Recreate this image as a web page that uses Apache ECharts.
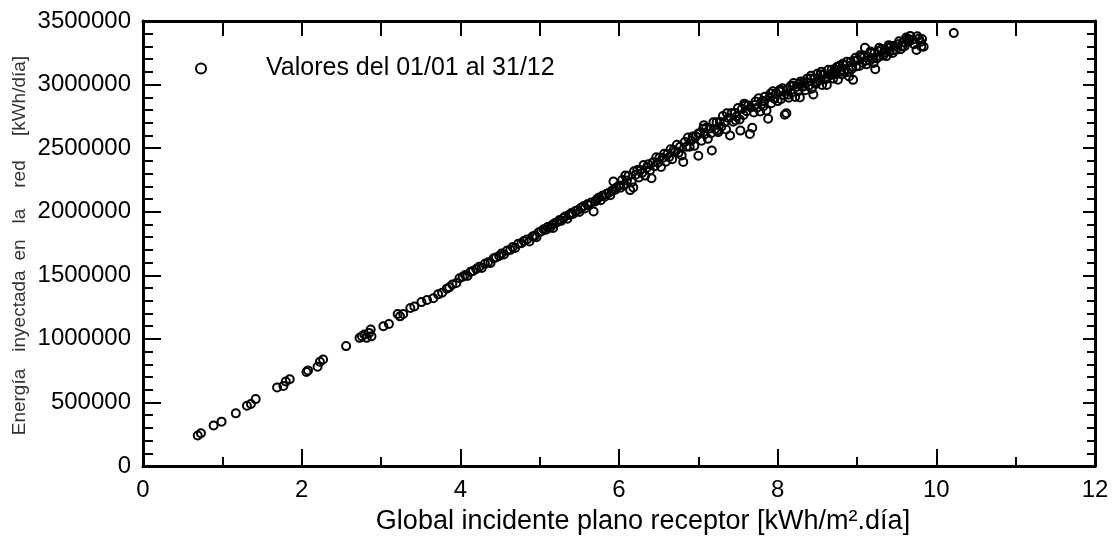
<!DOCTYPE html>
<html>
<head>
<meta charset="utf-8">
<script src="https://cdn.jsdelivr.net/npm/echarts@6/dist/echarts.min.js"></script>
<style>html,body{margin:0;padding:0;background:#fff}#c{width:1112px;height:540px}</style>
</head>
<body>
<div id="c"></div>
<script>
// Global irradiance on receptor plane [kWh/m2.day] and grid-injected energy [kWh/day]
const irradiance = [
0.69,0.73,0.89,0.99,1.17,1.31,1.36,1.42,1.69,1.77,1.80,1.85,2.06,2.08,2.20,2.23,2.27,2.56,2.73,2.76,
2.79,2.82,2.85,2.87,2.88,3.03,3.10,3.21,3.24,3.28,3.37,3.42,3.51,3.58,3.66,3.72,3.77,3.83,
3.86,3.90,3.95,3.99,4.03,4.06,4.09,4.13,4.16,4.20,4.24,4.27,4.31,4.35,4.38,4.42,4.45,4.49,4.52,4.55,
4.59,4.63,4.66,4.69,4.73,4.77,4.80,4.84,4.87,4.91,4.94,4.96,4.99,5.02,
5.05,5.08,5.10,5.13,5.16,5.17,5.19,5.22,5.25,5.27,5.30,5.32,5.35,5.37,5.40,5.42,5.45,5.48,5.50,5.52,
5.55,5.57,5.60,5.62,5.65,5.68,5.70,5.72,5.74,5.77,5.79,5.82,5.84,5.87,5.89,5.91,5.93,5.95,5.97,6.00,6.02,
6.04,6.06,6.08,6.10,6.12,6.14,6.16,6.18,6.19,6.21,6.23,6.25,6.27,6.29,6.31,6.33,6.35,6.37,6.39,6.41,
6.43,6.45,6.47,6.49,6.51,6.53,6.55,6.57,6.59,6.61,6.63,6.65,6.67,6.69,6.71,6.73,6.75,6.77,6.79,6.81,
6.83,6.85,6.87,6.89,6.91,6.93,6.95,6.97,7.00,7.00,
7.02,7.04,7.06,7.08,7.10,7.12,7.14,7.16,7.17,7.19,7.21,7.23,7.25,7.27,7.29,7.31,7.33,7.35,7.36,7.38,
7.40,7.42,7.44,7.46,7.48,7.50,7.52,7.53,7.55,7.57,7.59,7.61,7.63,7.65,7.66,7.68,7.70,7.72,7.74,7.76,
7.78,7.80,7.82,7.84,7.86,7.88,7.90,7.92,7.94,7.96,7.98,8.00,
8.02,8.04,8.06,8.08,8.09,8.11,8.12,8.14,8.16,8.18,8.20,8.22,8.24,8.26,8.28,8.29,8.31,8.33,8.35,8.37,
8.39,8.41,8.43,8.45,8.46,8.48,8.50,8.52,8.54,8.56,8.58,8.60,8.62,8.64,8.66,8.68,8.70,8.72,8.74,8.76,
8.78,8.80,8.82,8.84,8.86,8.88,8.90,8.92,8.94,8.95,8.97,8.99,
9.01,9.03,9.05,9.07,9.09,9.10,9.12,9.14,9.16,9.18,9.20,9.22,9.23,9.25,9.27,9.29,9.31,9.33,9.35,9.37,
9.39,9.41,9.43,9.45,9.47,9.49,9.52,9.55,9.58,9.60,9.63,9.65,9.67,9.70,9.72,9.75,9.78,9.80,9.82,9.84,10.22,
7.07,7.24,7.47,7.58,7.71,7.83,7.91,8.03,8.13,8.19,8.27,8.34,8.42,8.49,8.55,8.63,8.69,8.75,8.81,8.87,
8.93,8.98,9.04,9.11,9.17,9.21,9.28,9.34,9.40,9.46,9.53,9.57,9.62,9.66,9.76,9.81
];
const energy = [
240000,258000,318000,349000,414000,474000,487000,526000,617000,630000,664000,682000,740000,752000,781000,820000,838000,943000,1008000,1021000,
1034000,1008000,1047000,1073000,1021000,1099000,1117000,1195000,1177000,1195000,1242000,1255000,1289000,1305000,1320000,1350000,1362000,1395000,
1405000,1428000,1440000,1476000,1488000,1502000,1495000,1528000,1534000,1550000,1568000,1558000,1590000,1602000,1596000,1634000,1640000,1652000,1671000,1664000,
1694000,1700000,1722000,1715000,1748000,1752000,1770000,1782000,1766000,1805000,1812000,1800000,1838000,1845000,
1862000,1858000,1880000,1874000,1898000,1872000,1910000,1918000,1935000,1928000,1950000,1962000,1945000,1975000,1990000,1982000,2005000,2012000,1998000,2030000,
2042000,2025000,2058000,2050000,2072000,2002000,2080000,2095000,2110000,2090000,2125000,2118000,2140000,2148000,2130000,2165000,2238000,2172000,2190000,2205000,2188000,
2249000,2211000,2284000,2246000,2283000,2170000,2233000,2190000,2318000,2291000,2328000,2270000,2327000,2304000,2367000,2284000,2346000,2373000,2325000,2263000,
2390000,2357000,2429000,2386000,2424000,2351000,2423000,2456000,2393000,2451000,2428000,2491000,2413000,2486000,2473000,2526000,2463000,2511000,2443000,2391000,
2548000,2511000,2583000,2511000,2558000,2591000,2518000,2591000,2440000,2615000,
2617000,2559000,2652000,2609000,2661000,2573000,2655000,2618000,2481000,2703000,2651000,2703000,2625000,2707000,2669000,2752000,2704000,2646000,2775000,2737000,
2599000,2776000,2708000,2776000,2748000,2815000,2726000,2638000,2809000,2760000,2835000,2791000,2836000,2612000,2820000,2660000,2781000,2867000,2817000,2893000,
2788000,2869000,2830000,2905000,2796000,2731000,2902000,2853000,2948000,2889000,2929000,2870000,
2945000,2885000,2971000,2916000,2763000,2774000,2961000,2896000,2987000,2937000,3012000,2902000,2982000,2948000,2898000,3025000,2981000,3021000,2956000,3046000,
2991000,3047000,2967000,2922000,3045000,3005000,3085000,3030000,3080000,2996000,3081000,3041000,2996000,3116000,3072000,3117000,3047000,3122000,3082000,3038000,
3148000,3113000,3163000,3098000,3154000,3099000,3064000,3179000,3139000,3037000,3187000,3142000,
3192000,3147000,3217000,3172000,3217000,3289000,3159000,3219000,3188000,3248000,3208000,3248000,3120000,3205000,3265000,3225000,3279000,3229000,3274000,3224000,
3289000,3258000,3303000,3248000,3303000,3273000,3318000,3278000,3333000,3302000,3357000,3335000,3383000,3353000,3317000,3272000,3362000,3335000,3358000,3297000,3405000,
2680000,2640000,2720000,2850000,2840000,2870000,2930000,2960000,2920000,2990000,3005000,2990000,3070000,3020000,3100000,3060000,3090000,3140000,3080000,3180000,
3120000,3210000,3230000,3190000,3260000,3170000,3290000,3250000,3310000,3270000,3340000,3300000,3370000,3355000,3380000,3300000
];
const xTicks = [0, 2, 4, 6, 8, 10, 12];
const yTicks = [0, 500000, 1000000, 1500000, 2000000, 2500000, 3000000, 3500000];
const seriesName = 'Valores del 01/01 al 31/12';
const xTitle = 'Global incidente plano receptor [kWh/m².día]';
const yTitleWords = ['Energía', 'inyectada', 'en', 'la', 'red', '[kWh/día]'];

const points = irradiance.map((x, i) => [x, energy[i]]);
const FONT = 'Liberation Sans, Arial, sans-serif';
const axisLine = { show: true, onZero: false, lineStyle: { color: '#000', width: 3 } };

const chart = echarts.init(document.getElementById('c'), null, { renderer: 'canvas' });
const yWordY = [402, 311, 250, 216, 174, 96];
chart.setOption({
  animation: false,
  backgroundColor: '#fff',
  grid: { left: 143, right: 17, top: 21, bottom: 71, containLabel: false },
  legend: {
    show: true, left: 190, top: 51, itemWidth: 20, itemHeight: 10,
    textStyle: { fontFamily: FONT, fontSize: 25, color: '#000', padding: [0, 0, 0, 50] },
    data: [seriesName]
  },
  xAxis: [{
    type: 'value', position: 'bottom', min: xTicks[0], max: xTicks[xTicks.length - 1], interval: 2,
    axisLine: axisLine,
    axisTick: { show: true, inside: true, length: 17, lineStyle: { color: '#000', width: 2 } },
    minorTick: { show: true, splitNumber: 2, length: 9, lineStyle: { color: '#000', width: 2 } },
    splitLine: { show: false },
    axisLabel: { show: true, margin: 12, fontFamily: FONT, fontSize: 24, color: '#000' },
    name: xTitle, nameLocation: 'middle', nameGap: 42,
    nameTextStyle: { fontFamily: FONT, fontSize: 27, color: '#000', padding: [0, 0, 0, 48] }
  }, {
    type: 'value', position: 'top', min: 0, max: 12, interval: 1,
    axisLine: axisLine,
    axisTick: { show: true, inside: true, length: 15, lineStyle: { color: '#000', width: 2 } },
    splitLine: { show: false }, axisLabel: { show: false }
  }],
  yAxis: [{
    type: 'value', position: 'left', min: yTicks[0], max: yTicks[yTicks.length - 1], interval: 500000,
    axisLine: axisLine,
    axisTick: { show: true, inside: true, length: 18, lineStyle: { color: '#000', width: 2 } },
    minorTick: { show: true, splitNumber: 5, length: 10, lineStyle: { color: '#000', width: 2 } },
    splitLine: { show: false },
    axisLabel: { show: true, margin: 12, fontFamily: FONT, fontSize: 24, color: '#000',
      formatter: v => String(v) }
  }, {
    type: 'value', position: 'right', min: 0, max: 3500000, interval: 500000,
    axisLine: axisLine,
    axisTick: { show: true, inside: true, length: 12, lineStyle: { color: '#000', width: 2 } },
    minorTick: { show: true, splitNumber: 5, length: 8, lineStyle: { color: '#000', width: 2 } },
    splitLine: { show: false }, axisLabel: { show: false }
  }],
  graphic: yTitleWords.map((w, i) => ({
    type: 'text', x: 20, y: yWordY[i], rotation: Math.PI / 2,
    style: { text: w, fontFamily: FONT, fontSize: 19, fill: '#333', align: 'center', verticalAlign: 'middle' }
  })),
  series: [{
    name: seriesName, type: 'scatter', xAxisIndex: 0, yAxisIndex: 0,
    symbol: 'circle', symbolSize: 8,
    itemStyle: { color: 'rgba(0,0,0,0)', borderColor: '#000', borderWidth: 2, opacity: 1 },
    emphasis: { disabled: true },
    data: points
  }]
});
</script>
</body>
</html>
